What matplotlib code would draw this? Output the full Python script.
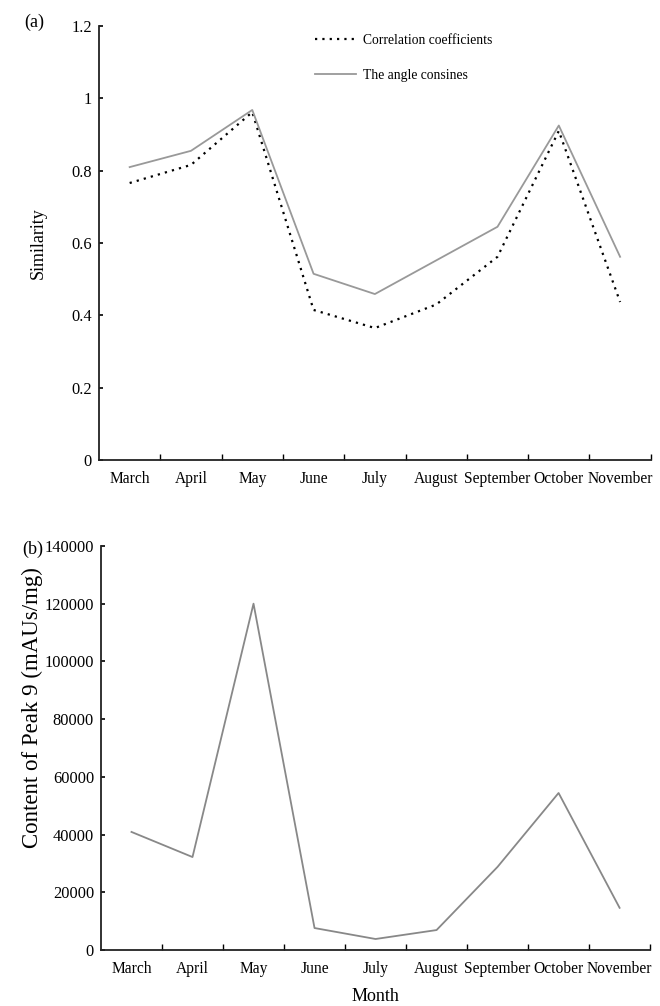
import numpy as np
import matplotlib
matplotlib.use("Agg")
import matplotlib.pyplot as plt

plt.rcParams['font.family'] = ['Liberation Serif', 'DejaVu Serif']

months = ['March', 'April', 'May', 'June', 'July', 'August',
          'September', 'October', 'November']

# (a) similarity
corr_coef = [0.766, 0.816, 0.962, 0.415, 0.365, 0.43, 0.562, 0.91, 0.437]
angle_cos = [0.81, 0.855, 0.968, 0.515, 0.459, 0.552, 0.645, 0.925, 0.562]
sim_ticks = [0, 0.2, 0.4, 0.6, 0.8, 1.0, 1.2]
sim_labels = ['0', '0.2', '0.4', '0.6', '0.8', '1', '1.2']

# (b) content of peak 9
peak9 = [40900, 32200, 120000, 7600, 3800, 6900, 28800, 54400, 14600]
peak_ticks = [0, 20000, 40000, 60000, 80000, 100000, 120000, 140000]

fig = plt.figure(figsize=(6.6, 10.06), dpi=100)
ax1 = fig.add_axes([0.15, 0.5427, 0.836, 0.4314])
ax2 = fig.add_axes([0.153, 0.0557, 0.832, 0.4016])

x = np.arange(len(months)) + 0.5


def style_axes(ax):
    for s in ['top', 'right']:
        ax.spines[s].set_visible(False)
    for s in ['left', 'bottom']:
        ax.spines[s].set_linewidth(1.3)
        ax.spines[s].set_color('#222222')
    ax.set_xlim(0, len(months))
    # ticks at the category borders, labels in the middle
    ax.set_xticks(np.arange(1, len(months) + 1))
    ax.set_xticklabels([])
    ax.set_xticks(x, minor=True)
    ax.set_xticklabels(months, minor=True)
    ax.tick_params(axis='x', which='major', direction='in', length=4, width=1)
    ax.tick_params(axis='x', which='minor', length=0, pad=8, labelsize=11.2)
    ax.tick_params(axis='y', direction='in', length=3, width=1.2, labelsize=11.8, pad=5)


ax1.plot(x, corr_coef, color='black', lw=1.6, linestyle=(0, (1, 2.3)),
         label='Correlation coefficients')
ax1.plot(x, angle_cos, color='#999999', lw=1.3, label='The angle consines')
style_axes(ax1)
ax1.set_ylim(0, 1.2)
ax1.set_yticks(sim_ticks)
ax1.set_yticklabels(sim_labels)
ax1.set_ylabel('Similarity', fontsize=13, labelpad=18)
ax1.legend(loc='upper left', bbox_to_anchor=(0.37, 1.01), frameon=False,
           fontsize=9.8, handlelength=3.0, labelspacing=1.6, handletextpad=0.5)
fig.text(0.036, 0.973, '(a)', fontsize=13)

ax2.plot(x, peak9, color='#888888', lw=1.3)
style_axes(ax2)
ax2.set_ylim(0, 140000)
ax2.set_yticks(peak_ticks)
ax2.set_yticklabels([str(t) for t in peak_ticks])
ax2.set_ylabel('Content of Peak 9 (mAUs/mg)', fontsize=16.5)
ax2.yaxis.set_label_coords(-0.105, 0.6)
ax2.set_xlabel('Month', fontsize=13, labelpad=8)
fig.text(0.034, 0.449, '(b)', fontsize=13)

fig.savefig('out.png', dpi=100)
